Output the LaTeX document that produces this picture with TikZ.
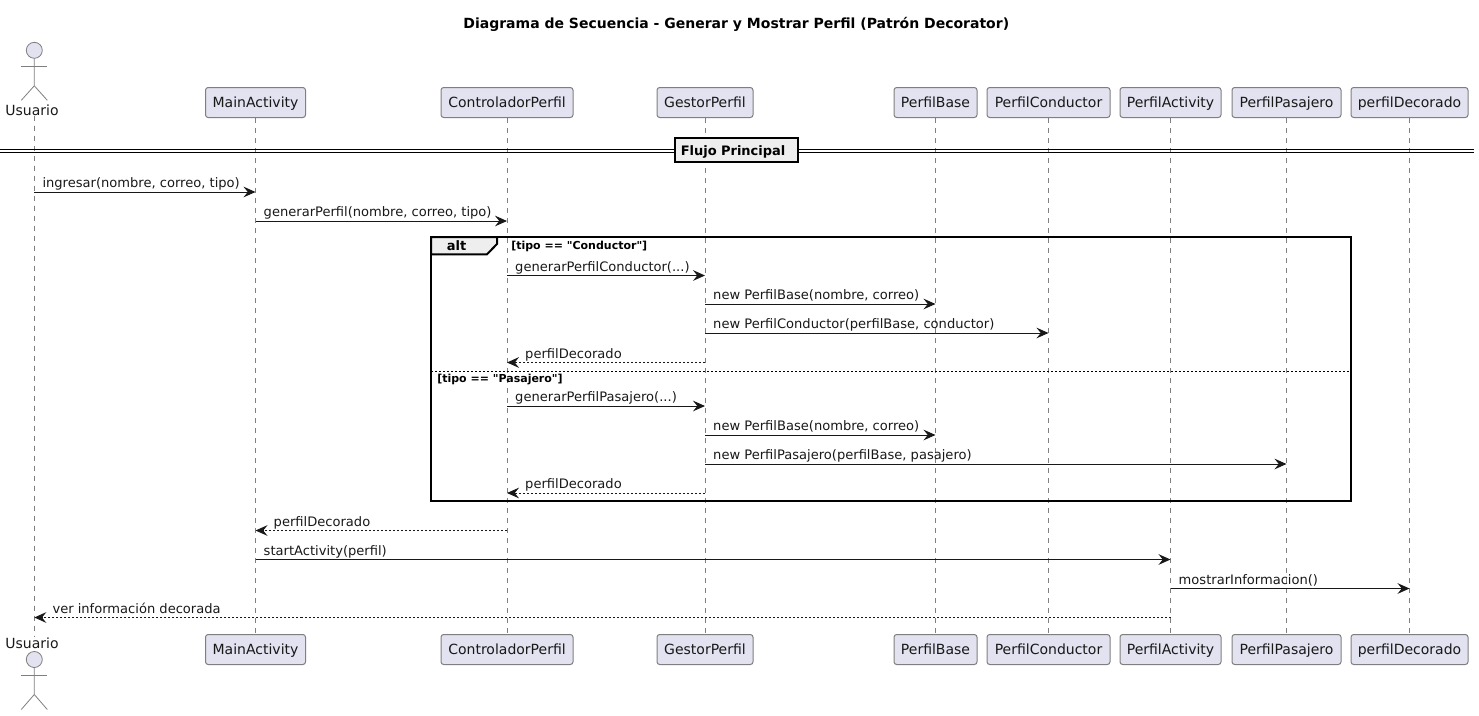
\documentclass[tikz,border=0pt]{standalone}
\usepackage{fontspec}
\setmainfont{DejaVu Sans}
\usepackage{xcolor}
\usetikzlibrary{arrows.meta}
\definecolor{partfill}{HTML}{E2E2F0}
\definecolor{partline}{HTML}{7F7F7F}
\definecolor{inkline}{HTML}{181818}
\definecolor{framefill}{HTML}{EEEEEE}
\tikzset{
  partbox/.style={draw=partline, fill=partfill, line width=0.75pt, rounded corners=2pt, minimum height=22.5pt, inner sep=0pt, text height=8pt, text depth=0.8pt, font=\fontsize{10.5}{12}\selectfont, text=inkline},
  actorlabel/.style={inner sep=0pt, font=\fontsize{10.5}{12}\selectfont, text=inkline},
  actorline/.style={draw=partline, line width=0.6pt},
  lifeline/.style={draw=partline, line width=0.6pt, dash pattern=on 3.75pt off 3.75pt},
  msg/.style={draw=inkline, line width=0.75pt, -{Stealth[length=9pt, width=8pt, inset=3.2pt]}},
  reply/.style={msg, dash pattern=on 1.5pt off 1.5pt},
  msglabel/.style={inner sep=0pt, anchor=base west, xshift=5.8pt, yshift=3.1pt, font=\fontsize{9.8}{12}\selectfont, text=inkline},
  replylabel/.style={msglabel, xshift=7.5pt},
  guard/.style={inner sep=0pt, anchor=base west, font=\bfseries\fontsize{8.25}{10}\selectfont, text=black},
  framebox/.style={draw=black, line width=1.5pt},
}
\begin{document}
\begin{tikzpicture}[x=0.75pt, y=-0.75pt]
  \useasboundingbox (0,0) rectangle (1479,715);
  \node[inner sep=0pt, font=\bfseries\fontsize{10.5}{12}\selectfont] (title) at (736.3,24.3) {Diagrama de Secuencia - Generar y Mostrar Perfil (Patrón Decorator)};
  % participants, top row
  \node[actorlabel] (usuarioTop) at (32,110) {Usuario};
  \node[partbox, minimum width=75pt] (mainTop) at (255.5,102.5) {MainActivity};
  \node[partbox, minimum width=99pt] (controlTop) at (507,102.5) {ControladorPerfil};
  \node[partbox, minimum width=72pt] (gestorTop) at (705,102.5) {GestorPerfil};
  \node[partbox, minimum width=62.25pt] (baseTop) at (935.5,102.5) {PerfilBase};
  \node[partbox, minimum width=92.25pt] (conductorTop) at (1048.5,102.5) {PerfilConductor};
  \node[partbox, minimum width=75.75pt] (activityTop) at (1170.5,102.5) {PerfilActivity};
  \node[partbox, minimum width=81.75pt] (pasajeroTop) at (1286.5,102.5) {PerfilPasajero};
  \node[partbox, minimum width=87.75pt] (decoradoTop) at (1409.5,102.5) {perfilDecorado};
  % participants, bottom row
  \node[actorlabel] (usuarioBot) at (32,643) {Usuario};
  \node[partbox, minimum width=75pt] (mainBot) at (255.5,649.5) {MainActivity};
  \node[partbox, minimum width=99pt] (controlBot) at (507,649.5) {ControladorPerfil};
  \node[partbox, minimum width=72pt] (gestorBot) at (705,649.5) {GestorPerfil};
  \node[partbox, minimum width=62.25pt] (baseBot) at (935.5,649.5) {PerfilBase};
  \node[partbox, minimum width=92.25pt] (conductorBot) at (1048.5,649.5) {PerfilConductor};
  \node[partbox, minimum width=75.75pt] (activityBot) at (1170.5,649.5) {PerfilActivity};
  \node[partbox, minimum width=81.75pt] (pasajeroBot) at (1286.5,649.5) {PerfilPasajero};
  \node[partbox, minimum width=87.75pt] (decoradoBot) at (1409.5,649.5) {perfilDecorado};
  % actor figures
  \coordinate (usuarioAxis) at (34.3,0);
  \draw[actorline, fill=partfill] (34.3,50.3) circle (6pt);
  \draw[actorline] (34.3,58.3) -- (34.3,85.8) -- (21.3,100.3);
  \draw[actorline] (34.3,85.8) -- (47.3,100.3);
  \draw[actorline] (21.3,66.3) -- (47.3,66.3);
  \draw[actorline, fill=partfill] (34.3,659.5) circle (6pt);
  \draw[actorline] (34.3,667.5) -- (34.3,694.5) -- (21.3,709.5);
  \draw[actorline] (34.3,694.5) -- (47.3,709.5);
  \draw[actorline] (21.3,675.5) -- (47.3,675.5);
  % lifelines
  \draw[lifeline] (usuarioAxis |- usuarioTop.south) -- (usuarioAxis |- usuarioBot.north);
  \foreach \part in {main,control,gestor,base,conductor,activity,pasajero,decorado}
    \draw[lifeline] (\part Top.south) -- (\part Bot.north);
  % divider
  \draw[black, line width=1pt] (0,149.3) -- (1474,149.3);
  \draw[black, line width=1pt] (0,152.4) -- (1474,152.4);
  \node[draw=black, fill=framefill, line width=1.5pt, inner xsep=4.3pt, inner ysep=0pt, text width=83.9pt, text height=8.3pt, text depth=0.8pt, align=left, minimum height=17.5pt, font=\bfseries\fontsize{9.75}{12}\selectfont] (flujo) at (736.7,150) {Flujo Principal};
  % alt frame
  \draw[framebox] (431,237) rectangle (1351,501);
  \draw[framebox, fill=framefill] (431,237) -- (497,237) -- (497,244) -- (487,254.3) -- (431,254.3) -- cycle;
  \node[inner sep=0pt, font=\bfseries\fontsize{9.75}{12}\selectfont] (altTag) at (456.5,245.5) {alt};
  \node[guard] (guardA) at (511,249.2) {[tipo == \textquotedbl Conductor\textquotedbl]};
  \draw[black, line width=0.75pt, dash pattern=on 1.5pt off 1.5pt] (431,371.3) -- (1351,371.3);
  \node[guard] (guardB) at (437,382.7) {[tipo == \textquotedbl Pasajero\textquotedbl]};
  % message rows
  \foreach \row/\ypos in {a/192,b/221,c/275.5,d/304,e/333,f/362.5,g/406,h/435,i/464,j/493,k/530.5,l/559.5,m/588.5,n/617.5}
    \coordinate (row\row) at (0,\ypos);
  % messages
  \draw[msg] (usuarioAxis |- rowa) -- (mainTop |- rowa) node[pos=0, msglabel] (txtIngresar) {ingresar(nombre, correo, tipo)};
  \draw[msg] (mainTop |- rowb) -- (controlTop |- rowb) node[pos=0, msglabel] (txtGenerar) {generarPerfil(nombre, correo, tipo)};
  \draw[msg] (controlTop |- rowc) -- (gestorTop |- rowc) node[pos=0, msglabel] (txtConductor) {generarPerfilConductor(...)};
  \draw[msg] (gestorTop |- rowd) -- (baseTop |- rowd) node[pos=0, msglabel] (txtBaseA) {new PerfilBase(nombre, correo)};
  \draw[msg] (gestorTop |- rowe) -- (conductorTop |- rowe) node[pos=0, msglabel] (txtNewCond) {new PerfilConductor(perfilBase, conductor)};
  \draw[reply] (gestorTop |- rowf) -- (controlTop |- rowf) node[pos=1, replylabel] (txtDecoA) {perfilDecorado};
  \draw[msg] (controlTop |- rowg) -- (gestorTop |- rowg) node[pos=0, msglabel] (txtPasajero) {generarPerfilPasajero(...)};
  \draw[msg] (gestorTop |- rowh) -- (baseTop |- rowh) node[pos=0, msglabel] (txtBaseB) {new PerfilBase(nombre, correo)};
  \draw[msg] (gestorTop |- rowi) -- (pasajeroTop |- rowi) node[pos=0, msglabel] (txtNewPas) {new PerfilPasajero(perfilBase, pasajero)};
  \draw[reply] (gestorTop |- rowj) -- (controlTop |- rowj) node[pos=1, replylabel] (txtDecoB) {perfilDecorado};
  \draw[reply] (controlTop |- rowk) -- (mainTop |- rowk) node[pos=1, replylabel] (txtDecoC) {perfilDecorado};
  \draw[msg] (mainTop |- rowl) -- (activityTop |- rowl) node[pos=0, msglabel] (txtStart) {startActivity(perfil)};
  \draw[msg] (activityTop |- rowm) -- (decoradoTop |- rowm) node[pos=0, msglabel] (txtMostrar) {mostrarInformacion()};
  \draw[reply] (activityTop |- rown) -- (usuarioAxis |- rown) node[pos=1, replylabel] (txtVer) {ver información decorada};
\end{tikzpicture}
\end{document}
